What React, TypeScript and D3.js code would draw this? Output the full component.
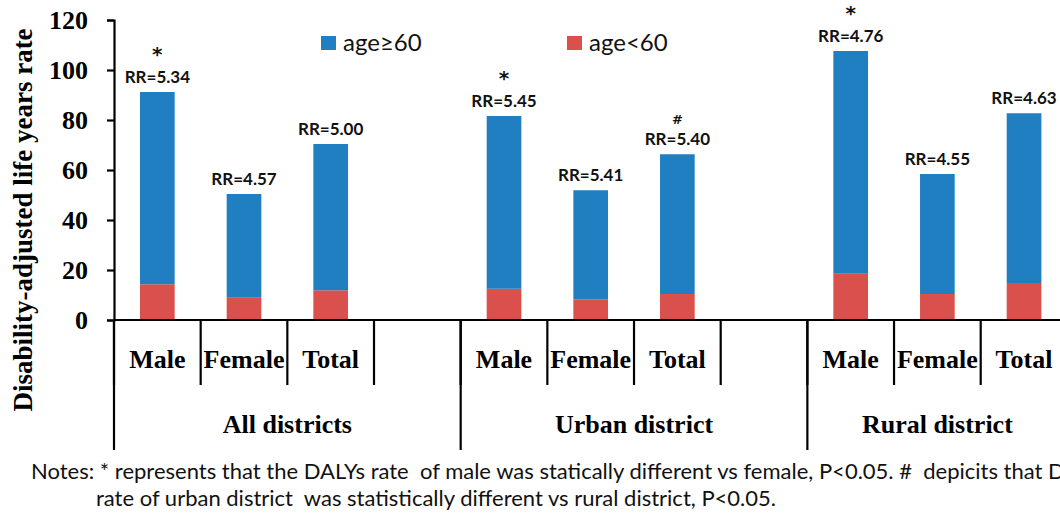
import * as d3 from 'd3'
import {useEffect, useRef} from "react";

// values
const groups = ["All districts", "Urban district", "Rural district"];
const sexes = ["Male", "Female", "Total"];
const under60 = [14.3, 8.9, 11.9, 12.5, 8.3, 10.4, 18.5, 10.4, 14.8];
const over60 = [76.9, 41.5, 58.5, 69.1, 43.6, 55.9, 89.1, 48.0, 67.9];
const rrLabels = ["RR=5.34", "RR=4.57", "RR=5.00", "RR=5.45", "RR=5.41", "RR=5.40", "RR=4.76", "RR=4.55", "RR=4.63"];
const sigMarks = ["*", "", "", "*", "", "#", "*", "", ""];
const yTicks = [0, 20, 40, 60, 80, 100, 120];
const seriesNames = ["age≥60", "age<60"];
const notes = [
    "Notes: * represents that the DALYs rate  of male was statically different vs female, P<0.05. #  depicits that DALYs",
    "rate of urban district  was statistically different vs rural district, P<0.05.",
];

const W = 1060;
const H = 515;
const BLUE = "#1f7fc1";
const RED = "#da504c";
const SERIF = "'Liberation Serif', 'Times New Roman', serif";
const SANS = "Lato, 'Open Sans', sans-serif";
// marks sit above the bar top; the asterisk needs a bigger glyph than the hash
const markStyle = {"*": {size: 20, dy: -31}, "#": {size: 13, dy: -30}};

const App = () => {
    const svgRef = useRef(null);

    useEffect(() => {
        const svg = d3.select(svgRef.current).html('');

        const left = 114, step = 86.67, top = 20, bottom = 320;

        // an empty slot separates the groups (the chart is cut after the last one)
        const slots = groups.flatMap((g, gi) =>
            (gi < groups.length - 1 ? [...sexes, ""] : sexes).map(s => `${g}|${s}`));
        const right = left + step * slots.length;
        const x = d3.scaleBand().domain(slots).range([left, right]).padding(0);
        const y = d3.scaleLinear().domain([0, 120]).range([bottom, top]);
        const barW = x.bandwidth() * 0.4;

        const rows = groups.flatMap((g, gi) => sexes.map((s, si) => {
            const i = gi * sexes.length + si;
            return {key: `${g}|${s}`, under60: under60[i], over60: over60[i], rr: rrLabels[i], mark: sigMarks[i]};
        }));

        const stack = d3.stack().keys(["under60", "over60"]);
        const layers = stack(rows);
        const colors = {under60: RED, over60: BLUE};

        layers.forEach(layer => {
            svg.append("g").selectAll("rect")
                .data(layer)
                .enter()
                .append("rect")
                .attr("x", d => x(d.data.key) + (x.bandwidth() - barW) / 2)
                .attr("width", barW)
                .attr("y", d => y(d[1]))
                .attr("height", d => y(d[0]) - y(d[1]))
                .attr("fill", colors[layer.key]);
        });

        // RR labels and significance marks
        const labels = svg.append("g")
            .attr("font-family", SANS)
            .attr("font-weight", "bold")
            .attr("font-size", 17)
            .attr("text-anchor", "middle")
            .attr("fill", "#111");
        rows.forEach(r => {
            const cx = x(r.key) + x.bandwidth() / 2;
            const barTop = y(r.under60 + r.over60);
            labels.append("text").attr("x", cx).attr("y", barTop - 9).text(r.rr);
            if (r.mark) {
                const ms = markStyle[r.mark];
                labels.append("text")
                    .attr("x", cx)
                    .attr("y", barTop + ms.dy)
                    .attr("font-family", "'DejaVu Sans', sans-serif")
                    .attr("font-size", ms.size)
                    .text(r.mark);
            }
        });

        // y axis
        const yAxis = d3.axisLeft(y).tickValues(yTicks).tickSize(7).tickPadding(19);
        const ga = svg.append("g").attr("transform", `translate(${left},0)`).call(yAxis);
        ga.select(".domain").attr("stroke", "#000").attr("stroke-width", 2.2);
        ga.selectAll(".tick line").attr("stroke", "#000").attr("stroke-width", 2.2);
        ga.selectAll(".tick text")
            .attr("font-family", SERIF)
            .attr("font-weight", "bold")
            .attr("font-size", 26)
            .attr("fill", "#000")
            .attr("dy", "0.33em");

        svg.append("text")
            .attr("transform", `translate(32,220) rotate(-90)`)
            .attr("text-anchor", "middle")
            .attr("font-family", SERIF)
            .attr("font-weight", "bold")
            .attr("font-size", 27)
            .text("Disability-adjusted life years rate");

        // x axis with two levels of categories
        const gx = svg.append("g").attr("stroke", "#000").attr("stroke-width", 2.2);
        gx.append("line").attr("x1", left).attr("x2", W).attr("y1", bottom).attr("y2", bottom);
        slots.forEach(s => {
            gx.append("line").attr("x1", x(s)).attr("x2", x(s)).attr("y1", bottom).attr("y2", 385);
        });
        groups.forEach((g, gi) => {
            const gx0 = x(`${g}|${sexes[0]}`);
            gx.append("line").attr("x1", gx0).attr("x2", gx0).attr("y1", bottom).attr("y2", 450);
            const gx1 = gi < groups.length - 1 ? x(`${groups[gi + 1]}|${sexes[0]}`) : right;
            svg.append("text")
                .attr("x", (gx0 + gx1) / 2)
                .attr("y", 433)
                .attr("text-anchor", "middle")
                .attr("font-family", SERIF)
                .attr("font-weight", "bold")
                .attr("font-size", 26)
                .text(g);
        });
        rows.forEach(r => {
            svg.append("text")
                .attr("x", x(r.key) + x.bandwidth() / 2)
                .attr("y", 368)
                .attr("text-anchor", "middle")
                .attr("font-family", SERIF)
                .attr("font-weight", "bold")
                .attr("font-size", 26)
                .text(r.key.split("|")[1]);
        });

        // legend
        const legendX = [321, 567];
        [BLUE, RED].forEach((c, i) => {
            svg.append("rect").attr("x", legendX[i]).attr("y", 36).attr("width", 15).attr("height", 14).attr("fill", c);
            svg.append("text")
                .attr("x", legendX[i] + 22)
                .attr("y", 51)
                .attr("font-family", SANS)
                .attr("font-size", 24)
                .attr("fill", "#111")
                .text(seriesNames[i]);
        });

        // notes (the first line runs past the right edge, as in the source figure)
        const lineX = [31, 96];
        const lineY = [479, 506];
        notes.forEach((t, i) => {
            svg.append("text")
                .attr("x", lineX[i])
                .attr("y", lineY[i])
                .attr("font-family", SANS)
                .attr("font-size", 22)
                .attr("fill", "#111")
                .style("white-space", "pre")
                .text(t);
        });
    }, []);

    return (
        <svg ref={svgRef} width={W} height={H}
             style={{position: "absolute", left: 0, top: 0, background: "#fff"}}></svg>
    );
}

export default App;
